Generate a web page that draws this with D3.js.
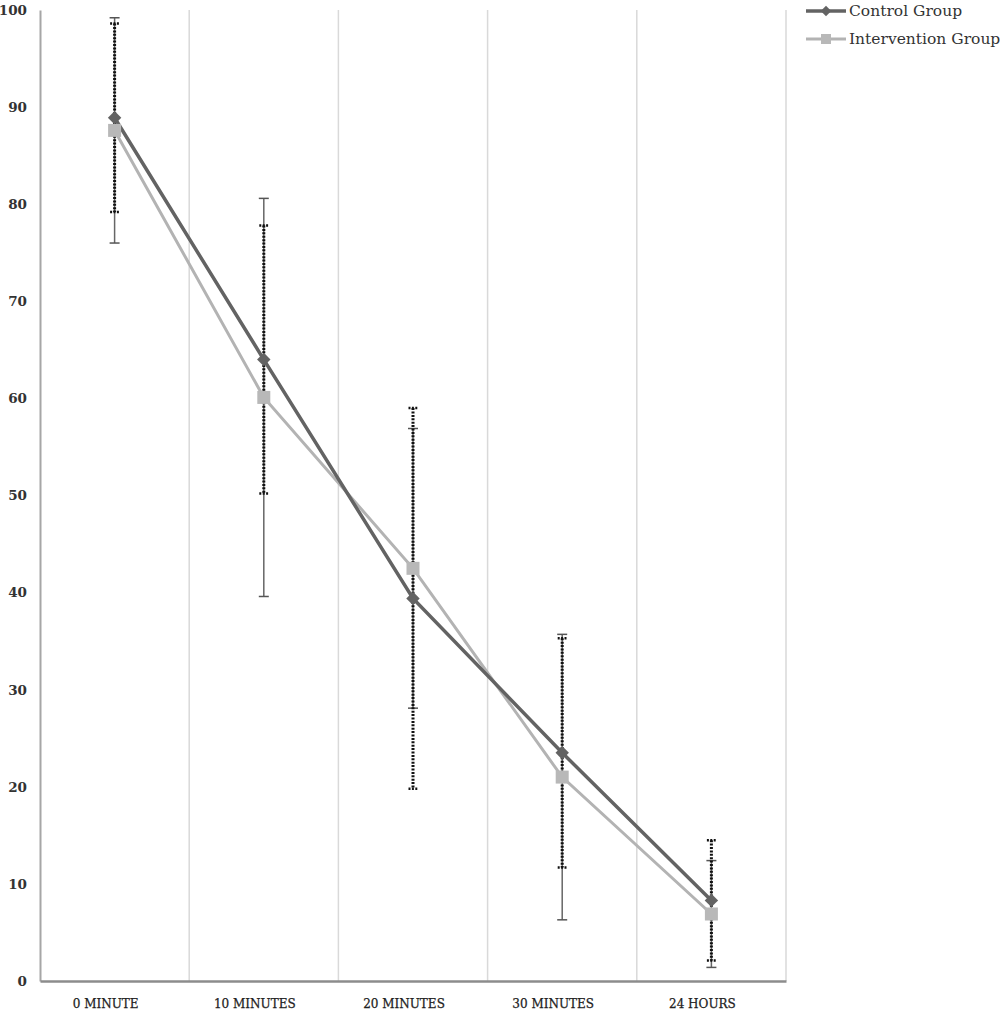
<!DOCTYPE html>
<html>
<head>
<meta charset="utf-8">
<script src="https://cdn.jsdelivr.net/npm/d3@7"></script>
<style>
  html, body { margin: 0; padding: 0; background: #fff; }
  svg { display: block; }
</style>
</head>
<body>
<svg id="chart" width="1000" height="1018"></svg>
<script>
// ---- Data ----
const categories = ["0 MINUTE", "10 MINUTES", "20 MINUTES", "30 MINUTES", "24 HOURS"];
const yTicks = [0, 10, 20, 30, 40, 50, 60, 70, 80, 90, 100];
const seriesNames = ["Control Group", "Intervention Group"];
const controlMeans = [88.9, 64.0, 39.4, 23.5, 8.3];
const controlErr = [9.7, 13.8, 19.6, 11.8, 6.2];
const interventionMeans = [87.6, 60.1, 42.5, 21.0, 6.9];
const interventionErr = [11.6, 20.5, 14.4, 14.7, 5.5];

(function () {
// ---- Layout ----
const svg = d3.select("#chart");
const mLeft = 40, mRight = 786, mTop = 10, mBottom = 981;
const x = d3.scaleBand().domain(categories).range([mLeft, mRight]).padding(0);
const y = d3.scaleLinear().domain([0, 100]).range([mBottom, mTop]);
const cx = c => x(c) + x.bandwidth() / 2;
const FONT = "'DejaVu Serif', 'Liberation Serif', serif";
const diamondType = d3.symbolDiamond2 || d3.symbolDiamond;

// vertical gridlines at category boundaries
const boundaries = categories.slice(1).map(c => x(c)).concat([mRight]);
svg.append("g").selectAll("line").data(boundaries).join("line")
  .attr("x1", d => d).attr("x2", d => d)
  .attr("y1", y(100)).attr("y2", y(0))
  .attr("stroke", "#d9d9d9").attr("stroke-width", 1.5);

// y axis
const yAxis = svg.append("g").attr("transform", `translate(${mLeft},0)`)
  .call(d3.axisLeft(y).tickValues(yTicks).tickSize(0).tickSizeOuter(0).tickPadding(13));
yAxis.select(".domain").attr("stroke", "#a6a6a6").attr("stroke-width", 2);
yAxis.selectAll("text").attr("font-family", FONT).attr("font-size", 13.5)
  .attr("font-weight", "bold").attr("fill", "#333");

// x axis
const xAxis = svg.append("g").attr("transform", `translate(0,${mBottom})`)
  .call(d3.axisBottom(x).tickSize(0).tickSizeOuter(0).tickPadding(18));
xAxis.select(".domain").attr("stroke", "#8c8c8c").attr("stroke-width", 2.5);
xAxis.selectAll("text").attr("font-family", FONT).attr("font-size", 12)
  .attr("fill", "#222").attr("dx", -9).attr("stroke", "#222").attr("stroke-width", 0.25);

// ---- Error bars ----
const interData = categories.map((c, i) => ({ c, m: interventionMeans[i], e: interventionErr[i] }));
const ctrlData = categories.map((c, i) => ({ c, m: controlMeans[i], e: controlErr[i] }));

// intervention: solid dark gray
const ebI = svg.append("g");
ebI.selectAll("line.v").data(interData).join("line").attr("class", "v")
  .attr("x1", d => cx(d.c)).attr("x2", d => cx(d.c))
  .attr("y1", d => y(d.m + d.e)).attr("y2", d => y(d.m - d.e))
  .attr("stroke", "#666").attr("stroke-width", 1.5);
[1, -1].forEach(s => {
  const cls = "cap" + (s > 0 ? "t" : "b");
  ebI.selectAll("line." + cls).data(interData).join("line").attr("class", cls)
    .attr("x1", d => cx(d.c) - 5).attr("x2", d => cx(d.c) + 5)
    .attr("y1", d => y(d.m + s * d.e)).attr("y2", d => y(d.m + s * d.e))
    .attr("stroke", "#555").attr("stroke-width", 1.5);
});

// control: black dotted
const ebC = svg.append("g");
ebC.selectAll("line.v").data(ctrlData).join("line").attr("class", "v")
  .attr("x1", d => cx(d.c)).attr("x2", d => cx(d.c))
  .attr("y1", d => y(d.m + d.e)).attr("y2", d => y(d.m - d.e))
  .attr("stroke", "#111").attr("stroke-width", 3).attr("stroke-dasharray", "2,1.4");
[1, -1].forEach(s => {
  const cls = "cap" + (s > 0 ? "t" : "b");
  ebC.selectAll("line." + cls).data(ctrlData).join("line").attr("class", cls)
    .attr("x1", d => cx(d.c) - 4.5).attr("x2", d => cx(d.c) + 4.5)
    .attr("y1", d => y(d.m + s * d.e)).attr("y2", d => y(d.m + s * d.e))
    .attr("stroke", "#111").attr("stroke-width", 2.5).attr("stroke-dasharray", "2,1.4");
});

// ---- Lines ----
const line = d3.line().x(d => cx(d.c)).y(d => y(d.m));
svg.append("path").datum(interData).attr("d", line)
  .attr("fill", "none").attr("stroke", "#b3b3b3").attr("stroke-width", 3);
svg.append("path").datum(ctrlData).attr("d", line)
  .attr("fill", "none").attr("stroke", "#636363").attr("stroke-width", 3.5);

// ---- Markers ----
svg.append("g").selectAll("path").data(ctrlData).join("path")
  .attr("d", d3.symbol().type(diamondType).size(115))
  .attr("transform", d => `translate(${cx(d.c)},${y(d.m)})`)
  .attr("fill", "#636363");
svg.append("g").selectAll("rect").data(interData).join("rect")
  .attr("x", d => cx(d.c) - 6.5).attr("y", d => y(d.m) - 6.5)
  .attr("width", 13).attr("height", 13).attr("fill", "#b8b8b8");

// ---- Legend ----
const legendColors = ["#636363", "#b3b3b3"];
const legend = svg.append("g");
seriesNames.forEach((name, i) => {
  const ly = 11 + i * 28;
  legend.append("line").attr("x1", 806).attr("x2", 846).attr("y1", ly).attr("y2", ly)
    .attr("stroke", legendColors[i]).attr("stroke-width", i === 0 ? 3.5 : 3);
  if (i === 0) {
    legend.append("path").attr("d", d3.symbol().type(diamondType).size(70))
      .attr("transform", `translate(826,${ly})`).attr("fill", "#636363");
  } else {
    legend.append("rect").attr("x", 821).attr("y", ly - 5).attr("width", 10).attr("height", 10)
      .attr("fill", "#b8b8b8");
  }
  legend.append("text").attr("x", 849).attr("y", ly).attr("dy", "0.35em")
    .attr("font-family", FONT).attr("font-size", 15.5).attr("fill", "#333")
    .text(name);
});
})();
</script>
</body>
</html>
